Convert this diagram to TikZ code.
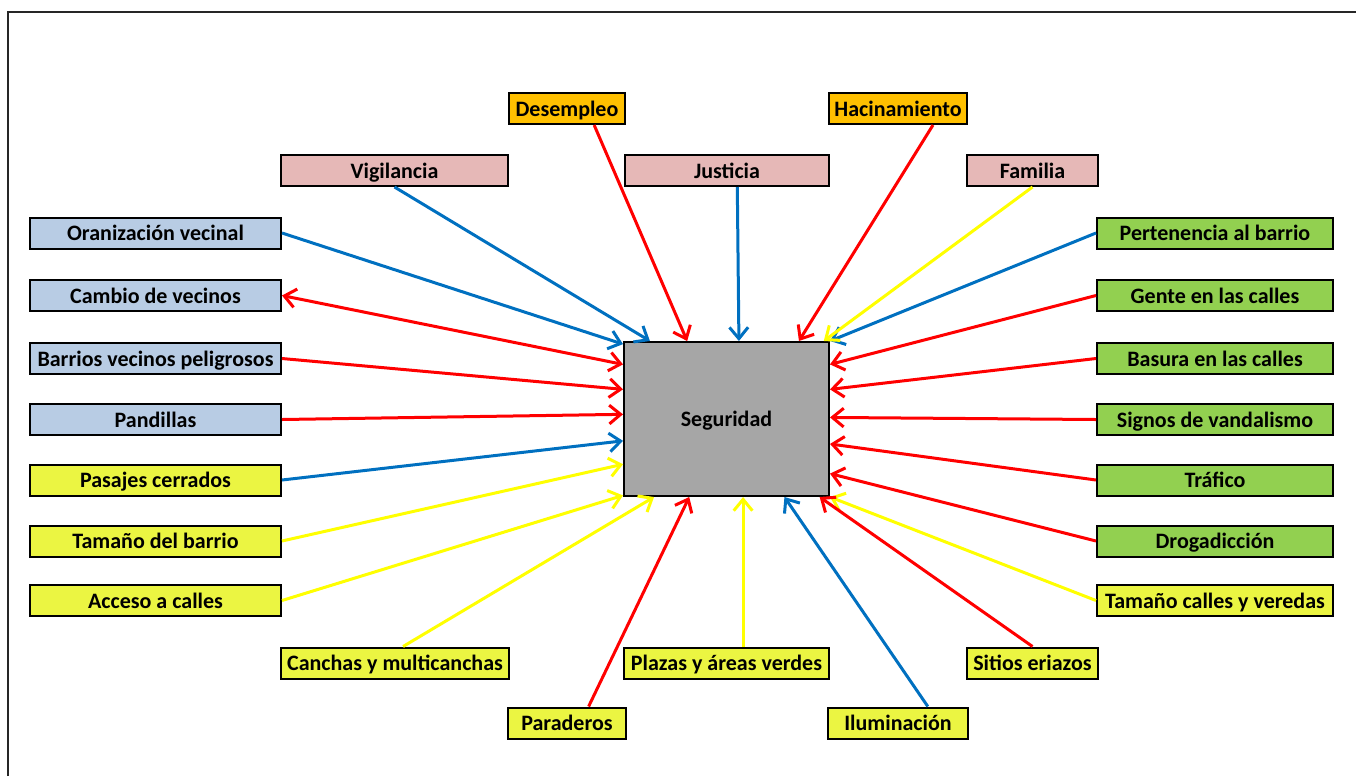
\documentclass[tikz,border=0pt]{standalone}
\usepackage{fontspec}
\setmainfont{Carlito}
\usetikzlibrary{arrows.meta,calc}
\definecolor{azul}{HTML}{0070C0}
\definecolor{rojo}{HTML}{FF0000}
\definecolor{amarillo}{HTML}{FFFF00}
\definecolor{celeste}{HTML}{B8CCE4}
\definecolor{rosa}{HTML}{E6B8B7}
\definecolor{naranja}{HTML}{FFC000}
\definecolor{verde}{HTML}{92D050}
\definecolor{lima}{HTML}{EBF542}
\definecolor{gris}{HTML}{A6A6A6}

\begin{document}
\begin{tikzpicture}[x=0.75pt,y=-0.75pt,
  caja/.style={draw=black,line width=1.5pt,minimum height=23.25pt,inner sep=0pt,
    text height=13pt,text depth=1.5pt,
    font=\fontsize{16.5}{18}\selectfont\bfseries},
  flecha/.style={line width=2.25pt,-{Straight Barb[length=8.5pt,width=14pt]}}]
\useasboundingbox (0,0) rectangle (1356,776);

% Marco
\draw[line width=1.5pt,black!85] (8,776) -- (8,12) -- (1356,12);

% Centro
\node[caja,fill=gris,minimum width=153.75pt,minimum height=115.5pt] (seg) at (726.5,419) {Seguridad};

% Factores de arriba
\node[caja,fill=naranja,minimum width=87pt] (des) at (567,108.5) {Desempleo};
\node[caja,fill=naranja,minimum width=103.5pt] (hac) at (898,108.5) {Hacinamiento};
\node[caja,fill=rosa,minimum width=170.25pt] (vig) at (394.5,170.5) {Vigilancia};
\node[caja,fill=rosa,minimum width=153pt] (jus) at (727,170.5) {Justicia};
\node[caja,fill=rosa,minimum width=98.25pt] (fam) at (1032.5,170.5) {Familia};

% Columna izquierda
\foreach \id/\y/\col/\txt in {ora/233/celeste/Oranización vecinal,
    cam/295.5/celeste/Cambio de vecinos,
    bar/358.5/celeste/Barrios vecinos peligrosos,
    pan/419.5/celeste/Pandillas,
    pas/480/lima/Pasajes cerrados,
    tba/541/lima/Tamaño del barrio,
    acc/600.5/lima/Acceso a calles} {
  \node[caja,fill=\col,minimum width=188.25pt] (\id) at (155.5,\y) {\txt};
}

% Columna derecha
\foreach \id/\y/\col/\txt in {per/233/verde/Pertenencia al barrio,
    gen/295.5/verde/Gente en las calles,
    bas/358.5/verde/Basura en las calles,
    sig/419.5/verde/Signos de vandalismo,
    tra/480/verde/Tráfico,
    dro/541/verde/Drogadicción,
    tca/600.5/lima/Tamaño calles y veredas} {
  \node[caja,fill=\col,minimum width=177pt] (\id) at (1215,\y) {\txt};
}

% Factores de abajo
\node[caja,fill=lima,minimum width=171pt] (can) at (395,663) {Canchas y multicanchas};
\node[caja,fill=lima,minimum width=153.75pt] (pla) at (726.5,663) {Plazas y áreas verdes};
\node[caja,fill=lima,minimum width=98.25pt] (sit) at (1032.5,663) {Sitios eriazos};
\node[caja,fill=lima,minimum width=88.5pt] (par) at (567,723) {Paraderos};
\node[caja,fill=lima,minimum width=105pt] (ilu) at (898,723) {Iluminación};

% Flechas
\foreach \n/\f/\c in {ora/0.02/azul, bar/0.31/rojo, pan/0.47/rojo, pas/0.64/azul,
    tba/0.79/amarillo, acc/0.99/amarillo} {
  \draw[flecha,draw=\c] (\n.east) -- ($(seg.north west)!\f!(seg.south west)$);
}
\draw[line width=2.25pt,draw=rojo,{Straight Barb[length=8.5pt,width=14pt]}-{Straight Barb[length=8.5pt,width=14pt]}]
  (cam.east) -- ($(seg.north west)!0.15!(seg.south west)$);
\foreach \n/\f/\c in {per/0.0/azul, gen/0.15/rojo, bas/0.31/rojo, sig/0.49/rojo,
    tra/0.66/rojo, dro/0.85/rojo, tca/1.0/amarillo} {
  \draw[flecha,draw=\c] (\n.west) -- ($(seg.north east)!\f!(seg.south east)$);
}
\foreach \n/\a/\f/\c in {vig/0.5/0.13/azul, des/0.73/0.31/rojo, jus/0.55/0.56/azul,
    hac/0.75/0.85/rojo, fam/0.5/0.97/amarillo} {
  \draw[flecha,draw=\c] ($(\n.south west)!\a!(\n.south east)$) -- ($(seg.north west)!\f!(seg.north east)$);
}
\foreach \n/\a/\f/\c in {can/0.535/0.15/amarillo, par/0.68/0.32/rojo, pla/0.58/0.58/amarillo,
    ilu/0.71/0.78/azul, sit/0.5/0.95/rojo} {
  \draw[flecha,draw=\c] ($(\n.north west)!\a!(\n.north east)$) -- ($(seg.south west)!\f!(seg.south east)$);
}

\end{tikzpicture}
\end{document}
